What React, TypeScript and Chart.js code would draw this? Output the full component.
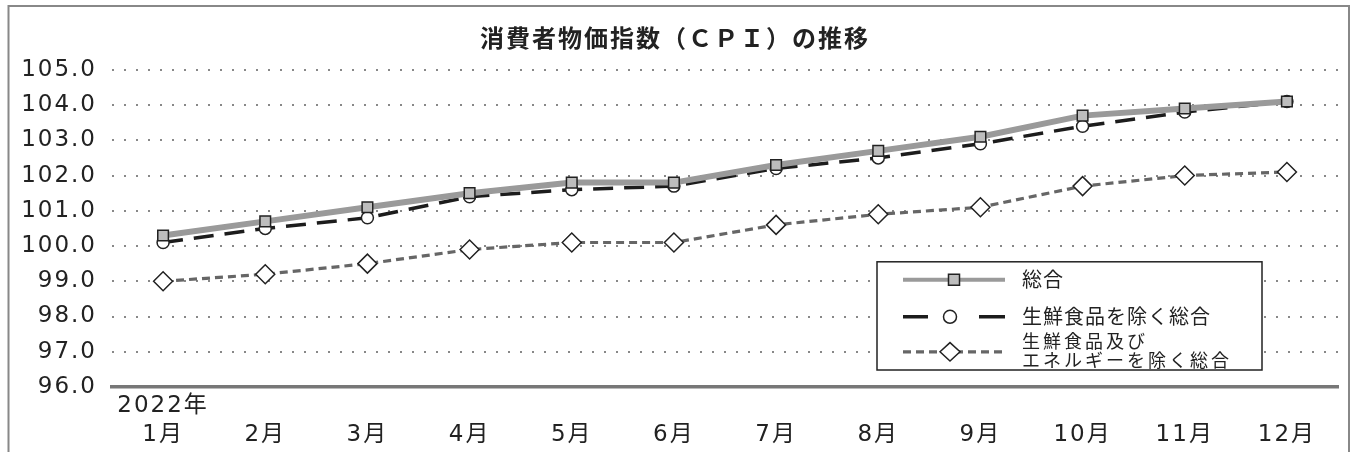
import React, { useEffect, useRef } from 'react';
import { Chart, registerables } from 'chart.js';

Chart.register(...registerables);

// ---- data ----
const chartTitle = '消費者物価指数（ＣＰＩ）の推移';
const yearLabel = '2022年';
const months = ['1月', '2月', '3月', '4月', '5月', '6月', '7月', '8月', '9月', '10月', '11月', '12月'];
const seriesNames = ['総合', '生鮮食品を除く総合', '生鮮食品及び\nエネルギーを除く総合'];
const sogo = [100.3, 100.7, 101.1, 101.5, 101.8, 101.8, 102.3, 102.7, 103.1, 103.7, 103.9, 104.1];
const excFresh = [100.1, 100.5, 100.8, 101.4, 101.6, 101.7, 102.2, 102.5, 102.9, 103.4, 103.8, 104.1];
const excFreshEnergy = [99.0, 99.2, 99.5, 99.9, 100.1, 100.1, 100.6, 100.9, 101.1, 101.7, 102.0, 102.1];
const yMin = 96;
const yMax = 105;
const yStep = 1;

const CJK = "'Noto Sans CJK JP', 'Noto Sans CJK SC', sans-serif";
const NUM = "'DejaVu Sans', 'Noto Sans CJK JP', sans-serif";

const spacingPlugin = {
  id: 'spacing',
  beforeUpdate(chart: any) {
    chart.ctx.letterSpacing = '2px';
  },
  beforeDraw(chart: any) {
    chart.ctx.letterSpacing = '2px';
  },
};

function drawMarker(ctx: CanvasRenderingContext2D, style: string, x: number, y: number, r: number, fill: string, stroke: string, bw: number) {
  ctx.save();
  ctx.setLineDash([]);
  ctx.beginPath();
  if (style === 'rect') {
    const s = r * Math.SQRT1_2;
    ctx.rect(x - s, y - s, 2 * s, 2 * s);
  } else if (style === 'rectRot') {
    ctx.moveTo(x - r, y);
    ctx.lineTo(x, y - r * 0.92);
    ctx.lineTo(x + r, y);
    ctx.lineTo(x, y + r * 0.92);
    ctx.closePath();
  } else {
    ctx.arc(x, y, r, 0, Math.PI * 2);
  }
  ctx.fillStyle = fill;
  ctx.fill();
  ctx.lineWidth = bw;
  ctx.strokeStyle = stroke;
  ctx.stroke();
  ctx.restore();
}

const boxLegendPlugin = {
  id: 'boxLegend',
  afterDatasetsDraw(chart: any) {
    const { ctx, chartArea } = chart;
    const x0 = chartArea.right - 461;
    const x1 = chartArea.right - 76;
    const y0 = chartArea.top + 192;
    const y1 = chartArea.bottom - 17;
    ctx.save();
    ctx.fillStyle = '#ffffff';
    ctx.fillRect(x0, y0, x1 - x0, y1 - y0);
    ctx.lineWidth = 1.5;
    ctx.strokeStyle = '#222';
    ctx.setLineDash([]);
    ctx.strokeRect(x0, y0, x1 - x0, y1 - y0);

    const rowsY = [y0 + 18, y0 + 55, y0 + 90];
    const lx0 = x0 + 26;
    const lx1 = x0 + 128;
    const mx = x0 + 73;
    const tx = x0 + 145;
    chart.data.datasets.forEach((ds: any, i: number) => {
      const y = rowsY[i];
      ctx.save();
      ctx.strokeStyle = ds.borderColor;
      ctx.lineWidth = i === 0 ? 4 : ds.borderWidth;
      ctx.lineCap = 'butt';
      if (i === 1) {
        ctx.beginPath();
        ctx.moveTo(lx0, y);
        ctx.lineTo(lx0 + 25, y);
        ctx.moveTo(lx1 - 26, y);
        ctx.lineTo(lx1, y);
        ctx.stroke();
      } else {
        ctx.setLineDash(ds.borderDash || []);
        ctx.beginPath();
        ctx.moveTo(lx0, y);
        ctx.lineTo(lx1, y);
        ctx.stroke();
      }
      ctx.restore();
      const r = i === 0 ? 7.8 : i === 1 ? 6.5 : 10;
      drawMarker(ctx, ds.pointStyle, i === 0 ? mx + 4 : mx, y, r, ds.pointBackgroundColor, ds.pointBorderColor, ds.pointBorderWidth);

      ctx.fillStyle = '#222';
      ctx.textAlign = 'left';
      ctx.textBaseline = 'middle';
      const lines = String(seriesNames[i]).split('\n');
      if (lines.length === 1) {
        ctx.font = `20px ${CJK}`;
        ctx.letterSpacing = '1px';
        ctx.fillText(lines[0], tx, y);
      } else {
        ctx.font = `18px ${CJK}`;
        ctx.letterSpacing = '3px';
        ctx.fillText(lines[0], tx, y - 11);
        ctx.fillText(lines[1], tx, y + 8);
      }
    });
    ctx.restore();
  },
};

const framePlugin = {
  id: 'frame',
  afterDraw(chart: any) {
    const { ctx } = chart;
    ctx.save();
    ctx.setLineDash([]);
    ctx.strokeStyle = '#888';
    ctx.lineWidth = 2;
    ctx.strokeRect(8.5, 6, 1340.5, 520);
    ctx.restore();
  },
};

export default function App() {
  const canvasRef = useRef<HTMLCanvasElement | null>(null);

  useEffect(() => {
    const canvas = canvasRef.current;
    if (!canvas) return;
    const labels = months.map((m, i) => (i === 0 ? [yearLabel, m] : ['', m]));
    const chart = new Chart(canvas, {
      type: 'line',
      data: {
        labels,
        datasets: [
          {
            label: seriesNames[0],
            data: sogo,
            borderColor: '#9a9a9a',
            borderWidth: 6,
            pointStyle: 'rect',
            pointRadius: 7.5,
            pointBackgroundColor: '#bdbdbd',
            pointBorderColor: '#222',
            pointBorderWidth: 1.5,
            tension: 0,
          },
          {
            label: seriesNames[1],
            data: excFresh,
            borderColor: '#1c1c1c',
            borderWidth: 3.5,
            borderDash: [20, 11],
            pointStyle: 'circle',
            pointRadius: 6,
            pointBackgroundColor: '#ffffff',
            pointBorderColor: '#222',
            pointBorderWidth: 1.5,
            tension: 0,
          },
          {
            label: seriesNames[2],
            data: excFreshEnergy,
            borderColor: '#666666',
            borderWidth: 3.2,
            borderDash: [8, 5],
            pointStyle: 'rectRot',
            pointRadius: 9.5,
            pointBackgroundColor: '#ffffff',
            pointBorderColor: '#222',
            pointBorderWidth: 1.5,
            tension: 0,
          },
        ],
      },
      options: {
        responsive: false,
        animation: false,
        devicePixelRatio: 1,
        layout: { padding: { left: 12, right: 17, top: 0, bottom: 0 } },
        plugins: {
          legend: { display: false },
          tooltip: { enabled: false },
          title: {
            display: true,
            text: chartTitle,
            color: '#222',
            font: { family: CJK, size: 24, weight: 'bold', lineHeight: 1.2 },
            padding: { top: 23, bottom: 18 },
          },
        },
        scales: {
          x: {
            offset: true,
            grid: { display: false, drawTicks: false },
            border: { display: true, color: '#777', width: 3.5 },
            ticks: {
              autoSkip: false,
              maxRotation: 0,
              color: '#222',
              padding: 5,
              font: { family: NUM, size: 23, lineHeight: 1.25 },
            },
            afterFit: (s: any) => {
              s.height = 65;
            },
          },
          y: {
            min: yMin,
            max: yMax,
            ticks: {
              stepSize: yStep,
              color: '#222',
              padding: 15,
              font: { family: NUM, size: 23 },
              callback: (v: any) => Number(v).toFixed(1),
            },
            grid: { color: '#888', lineWidth: 2, drawTicks: false },
            border: { display: false, dash: [2, 10] },
            afterFit: (s: any) => {
              s.width = 100;
            },
          },
        },
      },
      plugins: [spacingPlugin, boxLegendPlugin, framePlugin],
    } as any);
    return () => chart.destroy();
  }, []);

  return (
    <div style={{ position: 'absolute', left: 0, top: 0, width: 1355, height: 452, background: '#fff' }}>
      <canvas ref={canvasRef} width={1355} height={452} style={{ display: 'block', width: 1355, height: 452 }} />
    </div>
  );
}
